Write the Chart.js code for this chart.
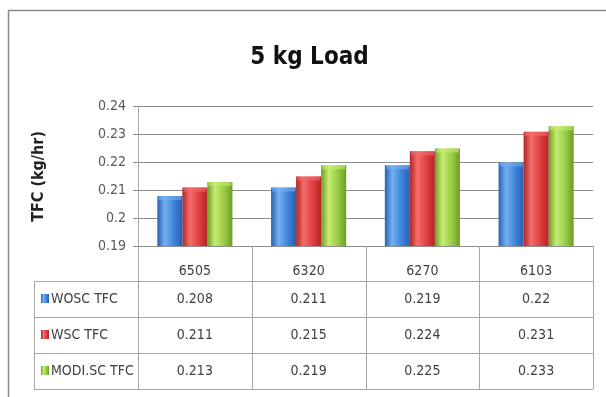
<!DOCTYPE html>
<html>
<head>
<meta charset="utf-8">
<title>5 kg Load</title>
<script src="https://cdn.jsdelivr.net/npm/chart.js@4"></script>
<style>
    html, body { margin: 0; padding: 0; background: #fff; }
    #wrap { width: 606px; height: 397px; position: relative; }
</style>
</head>
<body>
<div id="wrap"><canvas id="tfcGraph"></canvas></div>
<script>
const speeds = ['6505', '6320', '6270', '6103'];
const woscTfc = [0.208, 0.211, 0.219, 0.22];
const wscTfc = [0.211, 0.215, 0.224, 0.231];
const modiScTfc = [0.213, 0.219, 0.225, 0.233];
const seriesNames = ['WOSC TFC', 'WSC TFC', 'MODI.SC TFC'];

const yMin = 0.19;
const yMax = 0.24;
const yStep = 0.01;

// dark edge, highlight, body colour for each series
const shades = [
    ['#2a5fae', '#74b0f2', '#3b80d8'],
    ['#b02626', '#f46c6c', '#de3b3b'],
    ['#6c9c24', '#c6ec72', '#95ca42']
];

const font = "'DejaVu Sans Condensed', 'Liberation Sans Narrow', sans-serif";
Chart.defaults.font.family = font;

function barGradient(ctx, left, right, shade) {
    const g = ctx.createLinearGradient(left, 0, right, 0);
    g.addColorStop(0, shade[0]);
    g.addColorStop(0.3, shade[1]);
    g.addColorStop(0.7, shade[2]);
    g.addColorStop(1, shade[0]);
    return g;
}

// paints the outer frame
const frame = {
    id: 'frame',
    beforeDraw(chart) {
        const ctx = chart.ctx;
        ctx.save();
        ctx.fillStyle = '#fff';
        ctx.fillRect(0, 0, chart.width, chart.height);
        ctx.strokeStyle = '#8a8a8a';
        ctx.lineWidth = 1.5;
        ctx.strokeRect(8.5, 10.5, 610, 400);
        ctx.restore();
    }
};

// shaded bars, each one gets its own gradient
const shading = {
    id: 'shading',
    beforeDatasetDraw(chart, args) {
        const shade = shades[args.index];
        args.meta.data.forEach(bar => {
            const left = bar.x - bar.width / 2;
            const g = barGradient(chart.ctx, left, left + bar.width, shade);
            bar.options = Object.assign({}, bar.options, { backgroundColor: g });
        });
    },
    afterDatasetDraw(chart, args) {
        const ctx = chart.ctx;
        const shade = shades[args.index];
        args.meta.data.forEach(bar => {
            const left = bar.x - bar.width / 2;
            ctx.save();
            ctx.globalAlpha = 0.6;
            ctx.fillStyle = shade[1];
            ctx.fillRect(left + 1, bar.y, bar.width - 2, 4);
            ctx.restore();
        });
    }
};

// data table under the plot
const dataTable = {
    id: 'dataTable',
    afterDraw(chart) {
        const ctx = chart.ctx;
        const x = chart.scales.x;
        const area = chart.chartArea;
        const rowHeight = 36;
        const tableLeft = 34;
        const top = x.bottom;
        const rows = [woscTfc, wscTfc, modiScTfc];
        const bottom = top + rows.length * rowHeight;
        const colWidth = (area.right - area.left) / speeds.length;

        ctx.save();
        ctx.strokeStyle = '#a6a6a6';
        ctx.lineWidth = 1;
        ctx.beginPath();
        for (let i = 0; i <= speeds.length; i++) {
            const px = Math.round(area.left + i * colWidth) + 0.5;
            ctx.moveTo(px, area.bottom);
            ctx.lineTo(px, bottom);
        }
        ctx.moveTo(tableLeft + 0.5, top);
        ctx.lineTo(tableLeft + 0.5, bottom);
        for (let r = 0; r <= rows.length; r++) {
            const py = Math.round(top + r * rowHeight) + 0.5;
            ctx.moveTo(tableLeft, py);
            ctx.lineTo(area.right, py);
        }
        ctx.stroke();

        ctx.font = '14px ' + font;
        ctx.textBaseline = 'middle';
        rows.forEach((values, r) => {
            const cy = top + r * rowHeight + rowHeight / 2;
            const keyX = 41;
            ctx.fillStyle = barGradient(ctx, keyX, keyX + 8, shades[r]);
            ctx.fillRect(keyX, cy - 5, 8, 9);
            ctx.fillStyle = '#404040';
            ctx.textAlign = 'left';
            ctx.fillText(seriesNames[r], 51, cy);
            ctx.textAlign = 'center';
            values.forEach((v, i) => {
                ctx.fillText(String(v), x.getPixelForValue(i), cy);
            });
        });
        ctx.restore();
    }
};

const tfcGraph = document.getElementById('tfcGraph');

new Chart(tfcGraph, {
    type: 'bar',
    data: {
        labels: speeds,
        datasets: [
            { label: seriesNames[0], data: woscTfc, backgroundColor: shades[0][2] },
            { label: seriesNames[1], data: wscTfc, backgroundColor: shades[1][2] },
            { label: seriesNames[2], data: modiScTfc, backgroundColor: shades[2][2] }
        ]
    },
    options: {
        responsive: true,
        maintainAspectRatio: false,
        animation: false,
        layout: {
            padding: { top: 0, right: 13, bottom: 116, left: 26 }
        },
        datasets: {
            bar: {
                categoryPercentage: 0.66,
                barPercentage: 1,
                borderWidth: 0
            }
        },
        plugins: {
            legend: { display: false },
            tooltip: { enabled: false },
            title: {
                display: true,
                text: '5 kg Load',
                color: '#111',
                font: { size: 24, weight: 'bold', lineHeight: 1.2 },
                padding: { top: 43, bottom: 35 }
            }
        },
        scales: {
            x: {
                grid: { display: false },
                border: { display: false },
                ticks: {
                    color: '#404040',
                    font: { size: 14 },
                    padding: 9
                },
                afterFit(scale) {
                    scale.height = 35;
                }
            },
            y: {
                min: yMin,
                max: yMax,
                border: { display: true, color: '#a6a6a6' },
                grid: {
                    color: '#8c8c8c',
                    tickLength: 5
                },
                ticks: {
                    stepSize: yStep,
                    color: '#595959',
                    font: { size: 14 },
                    padding: 7,
                    callback: value => String(+value.toFixed(2))
                },
                title: {
                    display: true,
                    text: 'TFC (kg/hr)',
                    color: '#222',
                    font: { size: 16, weight: 'bold' },
                    padding: { top: 3, bottom: 0 }
                },
                afterFit(scale) {
                    scale.width = 112;
                }
            }
        }
    },
    plugins: [frame, shading, dataTable]
});
</script>
</body>
</html>
